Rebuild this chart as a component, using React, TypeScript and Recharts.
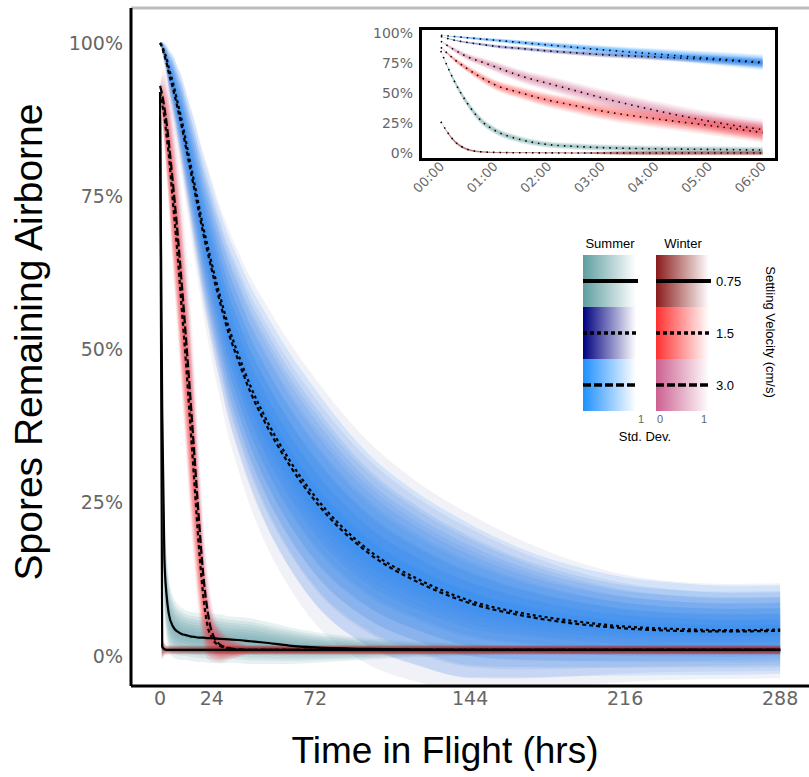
import { Area, ComposedChart, Line, ReferenceLine, XAxis, YAxis } from "recharts";

// main panel: hours in flight
const mainTimes = [0, 1, 2, 3, 4, 6, 8, 10, 12, 14, 16, 18, 20, 22, 24, 28, 32, 36, 42, 48, 60, 72, 96, 120, 144, 168, 192, 216, 240, 264, 288];
const mainXTicks = [0, 24, 72, 144, 216, 288];
const pctTicks = [0, 25, 50, 75, 100];

const tealMain = [88, 40, 16, 10, 7, 4.8, 4, 3.6, 3.4, 3.2, 3.1, 3, 3, 2.9, 2.9, 2.8, 2.7, 2.6, 2.4, 2.2, 1.7, 1.4, 1.15, 1.05, 1, 1, 1, 1, 1, 1, 1];
const tealSd = [0, 6, 3.5, 2.8, 2.4, 2, 1.8, 1.7, 1.6, 1.6, 1.6, 1.6, 1.6, 1.6, 1.6, 1.6, 1.5, 1.5, 1.5, 1.4, 1.2, 1, 0.7, 0.5, 0.4, 0.3, 0.3, 0.3, 0.3, 0.3, 0.3];
const navyMain = [100, 99.2, 98, 96.8, 95.2, 92.6, 89.6, 86.5, 83, 79.5, 76, 72.5, 69, 66, 63, 57.5, 52.5, 48.5, 43, 38.6, 31.2, 25.3, 17, 12, 8.6, 6.6, 5.3, 4.5, 4.1, 4, 4.1];
const navySd = [0, 0.4, 0.7, 1, 1.4, 2.1, 2.6, 3.2, 3.7, 4.1, 4.6, 4.9, 5.3, 5.6, 5.9, 6.3, 6.8, 7.1, 7.5, 7.8, 8, 8, 7.3, 6.5, 5.8, 4.9, 4.1, 3.5, 3.2, 3.1, 3.1];
const blueMain = [100, 99.5, 98.5, 97.5, 96, 93.5, 90.5, 87.5, 84, 80.5, 77, 73.5, 70, 67, 64, 58.5, 53.5, 49.5, 44, 39.5, 32, 26, 17.5, 12.5, 9, 7, 5.7, 4.8, 4.4, 4.2, 4.3];
const blueSd = [0, 0.3, 0.6, 0.9, 1.2, 1.8, 2.3, 2.8, 3.2, 3.6, 4, 4.3, 4.6, 4.9, 5.1, 5.5, 5.9, 6.2, 6.5, 6.8, 7, 7, 6.3, 5.6, 5, 4.2, 3.6, 3.2, 3, 2.9, 2.9];
const darkRedMain = [92, 1.5, 1.1, 1, 1, 1, 1, 1, 1, 1, 1, 1, 1, 1, 1, 1, 1, 1, 1, 1, 1, 1, 1, 1, 1, 1, 1, 1, 1, 1, 1];
const darkRedSd = [0, 0.8, 0.4, 0.3, 0.3, 0.3, 0.3, 0.3, 0.3, 0.3, 0.3, 0.3, 0.3, 0.3, 0.3, 0.3, 0.3, 0.3, 0.3, 0.3, 0.3, 0.3, 0.3, 0.3, 0.3, 0.3, 0.3, 0.3, 0.3, 0.3, 0.3];
const redMain = [92, 90, 88, 85, 82, 74, 66, 57, 48, 38, 28, 18, 10, 5, 3, 1.6, 1.2, 1.05, 1, 1, 1, 1, 1, 1, 1, 1, 1, 1, 1, 1, 1];
const redSd = [0, 1.2, 2, 2.8, 3.5, 4.5, 5, 5.5, 5.8, 6, 5.5, 4.5, 3.2, 2.2, 1.5, 1, 0.7, 0.5, 0.3, 0.3, 0.3, 0.3, 0.3, 0.3, 0.3, 0.3, 0.3, 0.3, 0.3, 0.3, 0.3];
const magentaMain = [93, 91.5, 89.5, 87, 84, 77, 69.5, 61, 52, 42.5, 32.5, 22.5, 13.5, 7.5, 4, 1.8, 1.3, 1.1, 1, 1, 1, 1, 1, 1, 1, 1, 1, 1, 1, 1, 1];
const magentaSd = [0, 1.5, 2.5, 3.2, 3.8, 4.8, 5.5, 6, 6.3, 6.5, 6, 5, 3.8, 2.8, 2, 1.2, 0.8, 0.5, 0.3, 0.3, 0.3, 0.3, 0.3, 0.3, 0.3, 0.3, 0.3, 0.3, 0.3, 0.3, 0.3];

// inset: first hours
const insetTimes = [0, 0.25, 0.5, 0.75, 1, 1.5, 2, 2.5, 3, 4, 5, 6];
const insetXTicks = [0, 1, 2, 3, 4, 5, 6];
const insetXLabels = ["00:00", "01:00", "02:00", "03:00", "04:00", "05:00", "06:00"];

const blueIn = [98, 97, 96, 95, 94, 92, 90, 88, 86, 82.5, 79, 75.5];
const blueInSd = [0, 0.2, 0.4, 0.5, 0.6, 0.8, 1, 1.2, 1.4, 1.8, 2.2, 2.6];
const navyIn = [97, 94, 92, 90.5, 89, 87, 85, 83.5, 82, 80, 78, 75];
const navyInSd = [0, 0.3, 0.4, 0.5, 0.6, 0.7, 0.8, 0.9, 1, 1.2, 1.4, 1.6];
const magentaIn = [93, 86, 80, 76, 72, 64, 58, 52, 46, 35.5, 26.5, 19.5];
const magentaInSd = [0, 0.8, 1.2, 1.5, 1.8, 2.2, 2.5, 2.7, 2.9, 3.1, 3.3, 3.5];
const redIn = [88, 78, 70, 63, 57, 50, 44, 39.5, 35, 28.5, 23, 17];
const redInSd = [0, 0.8, 1.2, 1.5, 1.8, 2.1, 2.4, 2.6, 2.8, 3, 3.2, 3.4];
const tealIn = [85, 60, 41, 27, 19, 11, 7, 5.5, 4.5, 3.5, 3, 2.5];
const tealInSd = [0, 1, 1.2, 1.3, 1.3, 1.2, 1.1, 1.1, 1.1, 1.1, 1.1, 1.1];
const darkRedIn = [26, 10, 3, 1, 0.5, 0.2, 0.1, 0, 0, 0, 0, 0];
const darkRedInSd = [0, 0.5, 0.4, 0.3, 0.2, 0.2, 0.2, 0.2, 0.5, 0.8, 0.8, 0.8];

// legend
const seasons = ["Summer", "Winter"];
const speedLabels = ["0.75", "1.5", "3.0"];
const legendColors = [
  ["#5F9EA0", "#000080", "#1E90FF"],
  ["#8B1A1A", "#FF3030", "#CD6090"],
];
const legendDashes = [undefined, "4 3", "8 3"];
const bandLevels = [0.3, 0.6, 0.9, 1.2, 1.5, 1.8, 2.1, 2.5];

type Series = { id: string; color: string; dash?: string; values: number[]; sd: number[]; alpha: number };

const mainSeries: Series[] = [
  { id: "navy", color: "#000080", dash: "4 3", values: navyMain, sd: navySd, alpha: 0.055 },
  { id: "blue", color: "#1E90FF", dash: "3 3", values: blueMain, sd: blueSd, alpha: 0.14 },
  { id: "teal", color: "#5F9EA0", values: tealMain, sd: tealSd, alpha: 0.14 },
  { id: "magenta", color: "#CD6090", dash: "8 3", values: magentaMain, sd: magentaSd, alpha: 0.08 },
  { id: "red", color: "#FF3030", dash: "4 3", values: redMain, sd: redSd, alpha: 0.1 },
  { id: "darkred", color: "#8B1A1A", values: darkRedMain, sd: darkRedSd, alpha: 0.13 },
];

const insetSeries: Series[] = [
  { id: "navy", color: "#000080", values: navyIn, sd: navyInSd, alpha: 0.065 },
  { id: "blue", color: "#1E90FF", values: blueIn, sd: blueInSd, alpha: 0.13 },
  { id: "teal", color: "#5F9EA0", values: tealIn, sd: tealInSd, alpha: 0.1 },
  { id: "magenta", color: "#CD6090", values: magentaIn, sd: magentaInSd, alpha: 0.085 },
  { id: "red", color: "#FF3030", values: redIn, sd: redInSd, alpha: 0.085 },
  { id: "darkred", color: "#8B1A1A", values: darkRedIn, sd: darkRedInSd, alpha: 0.13 },
];

function buildRows(times: number[], series: Series[]) {
  return times.map((t, i) => {
    const row: Record<string, number | number[]> = { t };
    series.forEach((s) => {
      row[s.id] = s.values[i];
      bandLevels.forEach((k, j) => {
        row[`${s.id}_b${j}`] = [s.values[i] - k * s.sd[i], s.values[i] + k * s.sd[i]];
      });
    });
    return row;
  });
}

const mainRows = buildRows(mainTimes, mainSeries);
const insetRows = buildRows(insetTimes, insetSeries);

const tickFont = { fill: "#666", fontSize: 19, fontFamily: "DejaVu Sans" };
const titleFont = "Liberation Sans, Arial, sans-serif";

function bands(series: Series[]) {
  return series.flatMap((s) =>
    bandLevels.map((_, j) => (
      <Area
        key={`${s.id}-band-${j}`}
        dataKey={`${s.id}_b${j}`}
        type="monotone"
        stroke="none"
        fill={s.color}
        fillOpacity={s.alpha}
        dot={false}
        activeDot={false}
        isAnimationActive={false}
      />
    ))
  );
}

function InsetXTick({ x, y, payload }: any) {
  return (
    <g transform={`translate(${x},${y})`}>
      <text x={0} y={0} dy={6} textAnchor="end" transform="rotate(-45)" fill="#666" fontSize={13} fontFamily="DejaVu Sans">
        {insetXLabels[payload.index]}
      </text>
    </g>
  );
}

function LegendBox() {
  return (
    <svg width={809} height={777} style={{ position: "absolute", left: 0, top: 0, pointerEvents: "none" }}>
      <defs>
        {legendColors.map((col, c) =>
          col.map((color, r) => (
            <linearGradient key={`g${c}${r}`} id={`lg-${c}-${r}`} x1="0" x2="1" y1="0" y2="0">
              <stop offset="0" stopColor={color} />
              <stop offset="1" stopColor="#fff" />
            </linearGradient>
          ))
        )}
      </defs>
      {seasons.map((s, c) => (
        <text key={s} x={c === 0 ? 610 : 683} y={248} textAnchor="middle" fontSize={13} fontFamily={titleFont} fill="#000">
          {s}
        </text>
      ))}
      {legendColors.map((col, c) =>
        col.map((_, r) => {
          const x0 = c === 0 ? 583 : 656;
          const y0 = 255 + r * 52;
          return (
            <g key={`cell${c}${r}`}>
              <rect x={x0} y={y0} width={53} height={52} fill={`url(#lg-${c}-${r})`} />
              <line x1={x0} x2={x0 + 55} y1={y0 + 26} y2={y0 + 26} stroke="#000" strokeWidth={r === 0 ? 4 : 3.5} strokeDasharray={legendDashes[r]} />
            </g>
          );
        })
      )}
      {speedLabels.map((l, r) => (
        <text key={l} x={716} y={255 + r * 52 + 31} fontSize={13} fontFamily={titleFont} fill="#000">
          {l}
        </text>
      ))}
      <text x={766} y={332} transform="rotate(90, 766, 332)" textAnchor="middle" fontSize={13} fontFamily={titleFont} fill="#000">
        Settling Velocity (cm/s)
      </text>
      <text x={641} y={423} textAnchor="middle" fontSize={11} fontFamily={titleFont} fill="#666">1</text>
      <text x={660} y={423} textAnchor="middle" fontSize={11} fontFamily={titleFont} fill="#666">0</text>
      <text x={704} y={423} textAnchor="middle" fontSize={11} fontFamily={titleFont} fill="#666">1</text>
      <text x={645} y={441} textAnchor="middle" fontSize={13} fontFamily={titleFont} fill="#000">
        Std. Dev.
      </text>
    </svg>
  );
}

export default function App() {
  return (
    <div style={{ position: "absolute", left: 0, top: 0, width: 809, height: 777, background: "#fff", overflow: "hidden" }}>
      <ComposedChart width={809} height={777} data={mainRows} margin={{ top: 8, right: 0, bottom: 0, left: 0 }}>
        <XAxis
          type="number"
          dataKey="t"
          domain={[-13.5, 301.4]}
          allowDataOverflow
          ticks={mainXTicks}
          interval={0}
          height={91}
          tickLine={false}
          tickSize={4}
          tickMargin={2}
          axisLine={{ stroke: "#000", strokeWidth: 3 }}
          tick={tickFont}
          label={(props: any) => {
            const vb = props.viewBox;
            return (
              <text x={vb.x + vb.width / 2 - 25} y={763} textAnchor="middle" fontSize={37} fontFamily={titleFont} fill="#000">
                Time in Flight (hrs)
              </text>
            );
          }}
        />
        <YAxis
          type="number"
          domain={[-4.9, 105.7]}
          allowDataOverflow
          ticks={pctTicks}
          interval={0}
          width={131}
          tickLine={false}
          tickSize={4}
          tickMargin={4}
          axisLine={{ stroke: "#000", strokeWidth: 3 }}
          tick={tickFont}
          tickFormatter={(v: number) => `${v}%`}
          label={() => (
            <text x={42} y={342} transform="rotate(-90, 42, 342)" textAnchor="middle" fontSize={39} fontFamily={titleFont} fill="#000">
              Spores Remaining Airborne
            </text>
          )}
        />
        <ReferenceLine y={105.7} stroke="#bebebe" strokeWidth={3} />
        {bands(mainSeries)}
        {mainSeries.map((s) => (
          <Line
            key={`${s.id}-line`}
            dataKey={s.id}
            type="monotone"
            stroke="#000"
            strokeWidth={2.2}
            strokeDasharray={s.dash}
            dot={false}
            activeDot={false}
            isAnimationActive={false}
          />
        ))}
      </ComposedChart>
      <LegendBox />
      <div
        style={{
          position: "absolute",
          left: 419,
          top: 27,
          width: 359,
          height: 134,
          boxSizing: "border-box",
          border: "3px solid #000",
          background: "#fff",
        }}
      />
      <div style={{ position: "absolute", left: 330, top: 20 }}>
        <ComposedChart width={460} height={200} data={insetRows} margin={{ top: 9, right: 14, bottom: 0, left: 0 }}>
          <XAxis
            type="number"
            dataKey="t"
            domain={[-0.37, 6.25]}
            allowDataOverflow
            ticks={insetXTicks}
            interval={0}
            height={61}
            tickLine={false}
            axisLine={false}
            tickSize={2}
            tickMargin={2}
            tick={<InsetXTick />}
          />
          <YAxis
            type="number"
            domain={[-5, 103.3]}
            allowDataOverflow
            ticks={pctTicks}
            interval={0}
            width={91}
            tickLine={false}
            axisLine={false}
            tickSize={4}
            tickMargin={4}
            tick={{ fill: "#666", fontSize: 14, fontFamily: "DejaVu Sans" }}
            tickFormatter={(v: number) => `${v}%`}
          />
          {bands(insetSeries)}
          {insetSeries.map((s) => (
            <Line
              key={`${s.id}-inline`}
              dataKey={s.id}
              type="monotone"
              stroke="#000"
              strokeWidth={1.6}
              strokeDasharray="1.5 5"
              dot={false}
              activeDot={false}
              isAnimationActive={false}
            />
          ))}
        </ComposedChart>
      </div>
    </div>
  );
}
